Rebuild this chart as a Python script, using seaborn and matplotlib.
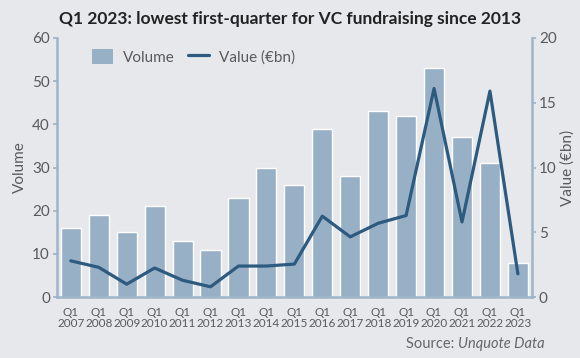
import matplotlib
matplotlib.use("Agg")
import matplotlib.pyplot as plt
import seaborn as sns
import pandas as pd
from matplotlib.patches import Patch
from matplotlib.lines import Line2D

years = ["2007", "2008", "2009", "2010", "2011", "2012", "2013", "2014", "2015",
         "2016", "2017", "2018", "2019", "2020", "2021", "2022", "2023"]
volume = [16, 19, 15, 21, 13, 11, 23, 30, 26, 39, 28, 43, 42, 53, 37, 31, 8]
value_bn = [2.8, 2.3, 1.0, 2.25, 1.3, 0.8, 2.4, 2.4, 2.55, 6.25, 4.65, 5.7, 6.3,
            16.1, 5.8, 15.9, 1.8]
labels = ["Q1\n" + y for y in years]

BG = "#e6e8ec"
BAR = "#98b0c6"
LINE = "#2d5a7f"
SPINE = "#9fb4c8"
TXT = "#5a5a5a"

sns.set_theme(style="white")
plt.rcParams["font.family"] = ["Lato", "DejaVu Sans"]

df = pd.DataFrame({"label": labels, "Volume": volume, "Value": value_bn})

fig = plt.figure(figsize=(5.8, 3.58), dpi=100, facecolor=BG)
ax = fig.add_axes([0.098, 0.17, 0.819, 0.724])
ax.set_facecolor(BG)

sns.barplot(data=df, x="label", y="Volume", color=BAR, width=0.72,
            saturation=1, ax=ax)
ax2 = ax.twinx()
sns.lineplot(x=list(range(len(labels))), y=value_bn, color=LINE, linewidth=2.3,
             ax=ax2)

ax.set_xlim(-0.5, len(labels) - 0.5)
ax.set_ylim(0, 60)
ax2.set_ylim(0, 20)
ax.set_yticks(range(0, 61, 10))
ax2.set_yticks(range(0, 21, 5))

for a in (ax, ax2):
    for s in a.spines.values():
        s.set_visible(False)
ax.spines["left"].set_visible(True)
ax.spines["bottom"].set_visible(True)
ax2.spines["right"].set_visible(True)
for s in (ax.spines["left"], ax.spines["bottom"], ax2.spines["right"]):
    s.set_color(SPINE)
    s.set_linewidth(1.8)

ax.tick_params(axis="y", length=3, color=SPINE, labelsize=11, labelcolor=TXT, pad=2)
ax2.tick_params(axis="y", length=3, color=SPINE, labelsize=11, labelcolor=TXT, pad=2)
ax.tick_params(axis="x", length=0, labelsize=8.5, labelcolor=TXT, pad=7)
for t in ax.get_xticklabels():
    t.set_linespacing(1.0)

ax.set_xlabel("")
ax.set_ylabel("Volume", fontsize=11, color=TXT, labelpad=4)
ax2.set_ylabel("Value (€bn)", fontsize=11, color=TXT, labelpad=3)

handles = [Patch(facecolor=BAR, edgecolor="none"),
           Line2D([0], [0], color=LINE, linewidth=2.3)]
ax.legend(handles, ["Volume", "Value (€bn)"], loc="upper left", ncol=2,
          frameon=False, fontsize=11, labelcolor=TXT,
          bbox_to_anchor=(0.045, 1.01), handlelength=1.4, handleheight=1.1,
          columnspacing=0.9, handletextpad=0.6)

fig.text(0.5, 0.948, "Q1 2023: lowest first-quarter for VC fundraising since 2013",
         ha="center", va="center", fontsize=12.5, fontweight="bold", color="#222222")
fig.text(0.79, 0.04, "Source: ", ha="right", va="center", fontsize=10.5, color="#666666")
fig.text(0.79, 0.04, "Unquote Data", ha="left", va="center", fontsize=10.5,
         color="#666666", style="italic")

fig.savefig("out.png", dpi=100, facecolor=BG)
